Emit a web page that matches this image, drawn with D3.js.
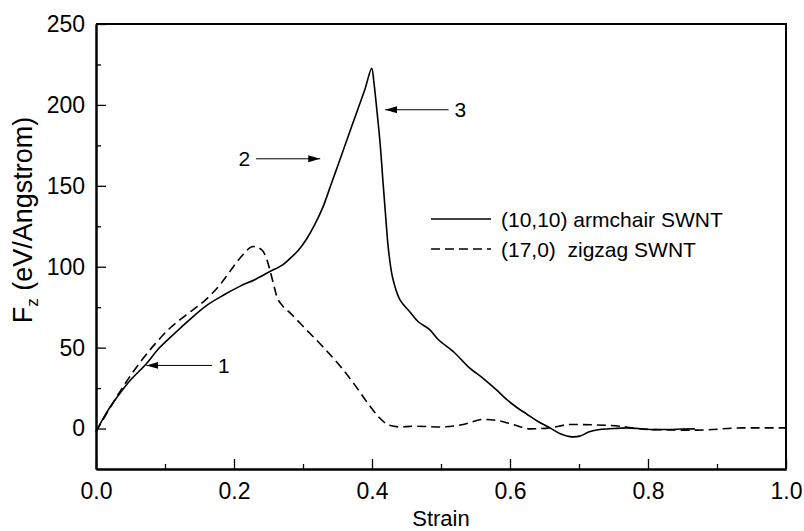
<!DOCTYPE html>
<html>
<head>
<meta charset="utf-8">
<script src="https://cdn.jsdelivr.net/npm/d3@7"></script>
<style>
  body { margin: 0; background: #fff; }
  text { font-family: "Liberation Sans", Arial, sans-serif; fill: #000; }
</style>
</head>
<body>
<div class="chart"></div>
<script>
// Force vs strain, (10,10) armchair and (17,0) zigzag SWNT

var armchairStrain = [0, 0.01, 0.02, 0.035, 0.05, 0.073, 0.09, 0.112, 0.135, 0.16, 0.185, 0.209, 0.23, 0.252,
    0.27, 0.281, 0.293, 0.305, 0.317, 0.329, 0.34, 0.35, 0.36, 0.37, 0.38, 0.39, 0.3995, 0.403, 0.407, 0.412,
    0.416, 0.42, 0.424, 0.43, 0.44, 0.455, 0.467, 0.484, 0.496, 0.52, 0.54, 0.561, 0.58, 0.595, 0.61, 0.624,
    0.64, 0.658, 0.672, 0.687, 0.701, 0.715, 0.73, 0.75, 0.769, 0.786, 0.803, 0.82, 0.832, 0.85, 0.868];
var armchairForce = [-2, 6, 13, 22, 30, 40, 49, 58, 67, 76, 82.5, 88, 92, 97,
    101, 105, 110, 117, 126, 137, 150, 162, 174, 186, 198, 210, 222.6, 213, 197, 175,
    152, 130, 110, 93, 80, 72, 66, 61, 55, 46.7, 38, 31, 24, 18, 13, 9,
    4.5, 0.4, -3, -5, -4.7, -2, -0.6, 0, 0.4, 0, -0.6, -0.6, -0.6, -0.3, -0.2];

var zigzagStrain = [0, 0.015, 0.035, 0.064, 0.085, 0.107, 0.13, 0.16, 0.18, 0.194, 0.21, 0.228, 0.24, 0.248,
    0.252, 0.258, 0.262, 0.27, 0.279, 0.305, 0.33, 0.354, 0.375, 0.395, 0.41, 0.425, 0.44, 0.46, 0.5,
    0.532, 0.561, 0.581, 0.604, 0.629, 0.658, 0.687, 0.745, 0.803, 0.87, 0.938, 0.991, 1.0];
var zigzagForce = [-2, 9, 23, 41, 52, 62, 70, 80, 89, 97, 106, 112.5, 110.5, 104,
    98, 88, 81.7, 76, 72.4, 61, 50, 38.5, 27, 15, 7, 2, 1, 1.4, 1,
    2.5, 5.6, 5, 2.5, -0.2, 0.4, 2.5, 1.9, -0.6, -1, 0.4, 0.4, 0.4];

var legendLabels = ["(10,10) armchair SWNT", "(17,0)  zigzag SWNT"];

// arrows: label, tail strain, tip strain, force
var arrowLabels = ["1", "2", "3"];
var arrowTail   = [0.168, 0.232, 0.511];
var arrowTip    = [0.073, 0.325, 0.419];
var arrowForce  = [39, 166.7, 197];

var xTicks = [0, 0.2, 0.4, 0.6, 0.8, 1.0];
var xMinor = [0.1, 0.3, 0.5, 0.7, 0.9];
var yTicks = [0, 50, 100, 150, 200, 250];
var yMinor = [25, 75, 125, 175, 225];


var margin = {top: 24, right: 18, bottom: 62, left: 96},
    width  = 804 - margin.left - margin.right,
    height = 531 - margin.top - margin.bottom;

var svg = d3.select(".chart").append("svg")
    .attr("width", width + margin.left + margin.right)
    .attr("height", height + margin.top + margin.bottom)
  .append("g")
    .attr("transform", "translate(" + margin.left + "," + margin.top + ")");

var x = d3.scaleLinear().domain([0, 1]).range([0, width]);
var y = d3.scaleLinear().domain([-25, 250]).range([height, 0]);

svg.append("defs").append("marker")
    .attr("id", "head")
    .attr("viewBox", "0 0 12 7")
    .attr("refX", 12).attr("refY", 3.5)
    .attr("markerWidth", 12).attr("markerHeight", 7)
    .attr("markerUnits", "userSpaceOnUse")
    .attr("orient", "auto")
  .append("path")
    .attr("d", "M0,0L12,3.5L0,7Z")
    .attr("fill", "#000");

// minor ticks
svg.append("g")
    .attr("transform", "translate(0," + height + ")")
    .call(d3.axisBottom(x).tickValues(xMinor).tickSize(-5).tickSizeOuter(0).tickFormat(""));
svg.append("g")
    .call(d3.axisLeft(y).tickValues(yMinor).tickSize(-5).tickSizeOuter(0).tickFormat(""));

svg.append("g")
    .attr("transform", "translate(0," + height + ")")
    .call(d3.axisBottom(x).tickValues(xTicks).tickSize(-10).tickSizeOuter(0)
        .tickPadding(14).tickFormat(d3.format(".1f")));

svg.append("g")
    .call(d3.axisLeft(y).tickValues(yTicks).tickSize(-10).tickSizeOuter(0).tickPadding(11));

svg.selectAll(".tick line").attr("stroke", "#000").attr("stroke-width", 1.3);
svg.selectAll(".domain").attr("stroke", "#000").attr("stroke-width", 2);
svg.selectAll(".tick text").attr("font-size", 23).attr("font-family", "Liberation Sans, Arial, sans-serif");

// top and right frame
svg.append("path")
    .attr("d", "M0,0H" + width + "V" + height)
    .attr("fill", "none")
    .attr("stroke", "#000")
    .attr("stroke-width", 2);

svg.append("path")
    .datum(d3.zip(zigzagStrain, zigzagForce))
    .attr("d", d3.line().x(function(d) { return x(d[0]); }).y(function(d) { return y(d[1]); }).curve(d3.curveMonotoneX))
    .attr("fill", "none")
    .attr("stroke", "#000")
    .attr("stroke-width", 1.6)
    .attr("stroke-dasharray", "9,5");

svg.append("path")
    .datum(d3.zip(armchairStrain, armchairForce))
    .attr("d", d3.line().x(function(d) { return x(d[0]); }).y(function(d) { return y(d[1]); }).curve(d3.curveCatmullRom.alpha(0.5)))
    .attr("fill", "none")
    .attr("stroke", "#000")
    .attr("stroke-width", 1.6);

// arrows
arrowLabels.forEach(function(lab, i) {
    svg.append("line")
        .attr("x1", x(arrowTail[i])).attr("y1", y(arrowForce[i]))
        .attr("x2", x(arrowTip[i])).attr("y2", y(arrowForce[i]))
        .attr("stroke", "#000")
        .attr("stroke-width", 1)
        .attr("marker-end", "url(#head)");
    var left = arrowTip[i] > arrowTail[i];
    svg.append("text")
        .attr("x", left ? x(arrowTail[i]) - 6 : x(arrowTail[i]) + 6)
        .attr("y", y(arrowForce[i]))
        .attr("dy", "0.36em")
        .attr("text-anchor", left ? "end" : "start")
        .attr("font-size", 21)
        .text(lab);
});

// legend
var legend = svg.selectAll(".legend")
    .data(legendLabels)
    .enter().append("g")
    .attr("class", "legend")
    .attr("transform", function(d, i) { return "translate(" + (431 - margin.left) + "," + (219 - margin.top + i * 30) + ")"; });

legend.append("line")
    .attr("x1", 0).attr("x2", 60)
    .attr("stroke", "#000")
    .attr("stroke-width", 1.6)
    .attr("stroke-dasharray", function(d, i) { return i ? "9,5" : null; });

legend.append("text")
    .attr("x", 70)
    .attr("dy", "0.36em")
    .attr("font-size", 21)
    .style("white-space", "pre")
    .text(function(d) { return d; });

// axis titles
svg.append("text")
    .attr("x", width / 2)
    .attr("y", 526 - margin.top)
    .attr("text-anchor", "middle")
    .attr("font-size", 22)
    .text("Strain");

var yTitle = svg.append("text")
    .attr("transform", "translate(" + (32 - margin.left) + "," + (220 - margin.top) + ") rotate(-90)")
    .attr("text-anchor", "middle")
    .attr("font-size", 27);
yTitle.append("tspan").text("F");
yTitle.append("tspan").attr("font-size", 17).attr("dy", 6).text("z");
yTitle.append("tspan").attr("dy", -6).text(" (eV/Angstrom)");

</script>
</body>
</html>
